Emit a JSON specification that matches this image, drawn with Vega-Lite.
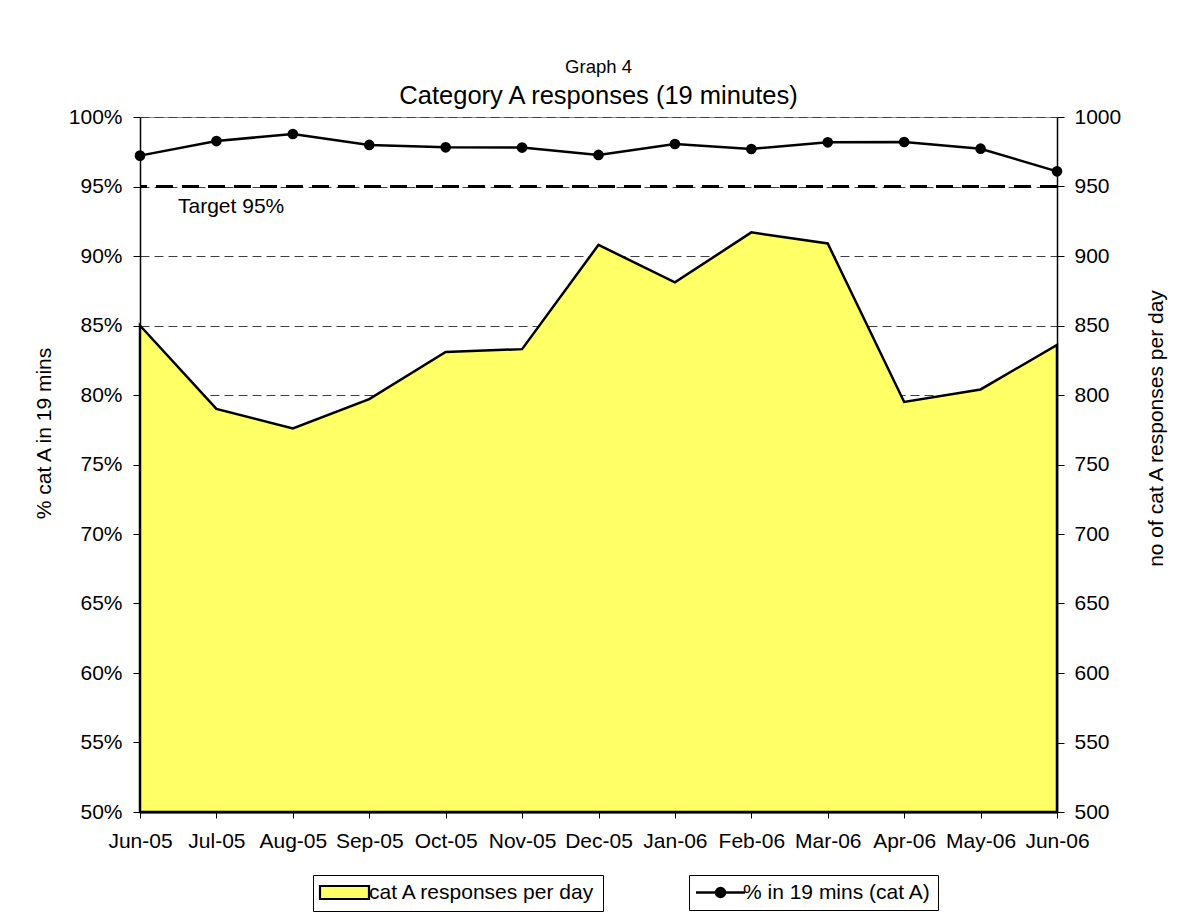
{
  "$schema": "https://vega.github.io/schema/vega-lite/v6.json",
  "width": 917,
  "height": 695,
  "autosize": {"type": "none"},
  "padding": {"left": 140, "top": 117, "right": 121, "bottom": 102},
  "background": "white",
  "config": {
    "font": "Liberation Sans",
    "view": {"stroke": "#8c8c8c", "strokeWidth": 1},
    "axis": {
      "labelFont": "Liberation Sans",
      "titleFont": "Liberation Sans",
      "labelFontSize": 21,
      "titleFontSize": 21,
      "titleFontWeight": "normal",
      "labelColor": "black",
      "titleColor": "black",
      "domainColor": "black",
      "tickColor": "black"
    },
    "legend": {
      "labelFont": "Liberation Sans",
      "labelFontSize": 21,
      "labelColor": "black",
      "labelLimit": 400
    }
  },
  "title": {
    "text": "Graph 4",
    "subtitle": "Category A responses (19 minutes)",
    "font": "Liberation Sans",
    "subtitleFont": "Liberation Sans",
    "fontSize": 18.5,
    "fontWeight": "normal",
    "subtitleFontSize": 25.5,
    "color": "black",
    "subtitleColor": "black",
    "anchor": "middle",
    "offset": -3,
    "subtitlePadding": 7
  },
  "data": {
    "values": [
      {"month": "Jun-05", "responses": 850, "pct": 0.9722},
      {"month": "Jul-05", "responses": 790, "pct": 0.9827},
      {"month": "Aug-05", "responses": 776, "pct": 0.9878},
      {"month": "Sep-05", "responses": 797, "pct": 0.9799},
      {"month": "Oct-05", "responses": 831, "pct": 0.9782},
      {"month": "Nov-05", "responses": 833, "pct": 0.978},
      {"month": "Dec-05", "responses": 908, "pct": 0.9727},
      {"month": "Jan-06", "responses": 881, "pct": 0.9806},
      {"month": "Feb-06", "responses": 917, "pct": 0.977},
      {"month": "Mar-06", "responses": 909, "pct": 0.9818},
      {"month": "Apr-06", "responses": 795, "pct": 0.982},
      {"month": "May-06", "responses": 804, "pct": 0.9772},
      {"month": "Jun-06", "responses": 836, "pct": 0.9609}
    ]
  },
  "layer": [
    {
      "mark": {"type": "area", "stroke": "black", "strokeWidth": 2.5},
      "encoding": {
        "x": {
          "field": "month", "type": "ordinal",
          "scale": {"type": "point", "padding": 0, "domain": ["Jun-05","Jul-05","Aug-05","Sep-05","Oct-05","Nov-05","Dec-05","Jan-06","Feb-06","Mar-06","Apr-06","May-06","Jun-06"]},
          "axis": {"title": null, "labelAngle": 0, "tickSize": 6, "labelPadding": 12, "domainWidth": 2, "zindex": 1, "grid": false}
        },
        "y": {
          "field": "responses", "type": "quantitative",
          "scale": {"domain": [500, 1000], "nice": false, "zero": false},
          "axis": {"orient": "right", "title": "no of cat A responses per day", "values": [500,550,600,650,700,750,800,850,900,950,1000], "format": "d", "grid": false, "tickSize": 7, "labelPadding": 10, "titlePadding": 46, "titleAngle": 270, "titleY": 311, "zindex": 1, "domainWidth": 1.5}
        },
        "y2": {"datum": 500},
        "fill": {
          "datum": "cat A responses per day", "type": "nominal",
          "scale": {"domain": ["cat A responses per day"], "range": ["#FFFF66"]},
          "legend": {
            "title": null,
            "orient": "none",
            "legendX": 173,
            "legendY": 758,
            "direction": "horizontal",
            "strokeColor": "black",
            "fillColor": "white",
            "padding": 7,
            "symbolSize": 100,
            "symbolOffset": 14,
            "labelOffset": 14,
            "symbolStrokeColor": "black",
            "symbolStrokeWidth": 2.2,
            "symbolType": "M-4.9,-1.3H4.9V1.3H-4.9Z"
          }
        }
      }
    },
    {
      "data": {"values": [{"target": 0.95}]},
      "mark": {"type": "rule", "color": "black", "strokeWidth": 3, "strokeDash": [17, 9]},
      "encoding": {
        "y": {
          "field": "target", "type": "quantitative",
          "scale": {"domain": [0.5, 1], "nice": false, "zero": false},
          "axis": {"orient": "left", "title": "% cat A in 19 mins", "values": [0.5,0.55,0.6,0.65,0.7,0.75,0.8,0.85,0.9,0.95,1], "format": ".0%", "grid": true, "gridDash": [9, 5], "gridColor": "#404040", "gridWidth": 1, "tickSize": 7, "labelPadding": 11, "titlePadding": 14, "titleY": 316, "domainWidth": 1.5, "zindex": 0}
        }
      }
    },
    {
      "mark": {"type": "line", "color": "black", "strokeWidth": 2.5, "point": {"filled": true, "fill": "black", "stroke": "black", "size": 75}},
      "encoding": {
        "x": {"field": "month", "type": "ordinal"},
        "y": {"field": "pct", "type": "quantitative", "scale": {"domain": [0.5, 1], "nice": false, "zero": false}, "axis": null},
        "stroke": {
          "datum": "% in 19 mins (cat A)", "type": "nominal",
          "scale": {"domain": ["% in 19 mins (cat A)"], "range": ["black"]},
          "legend": {
            "title": null,
            "orient": "none",
            "legendX": 549,
            "legendY": 758,
            "direction": "horizontal",
            "strokeColor": "black",
            "fillColor": "white",
            "padding": 7,
            "symbolSize": 100,
            "symbolOffset": 14,
            "labelOffset": 12,
            "symbolStrokeWidth": 2.5,
            "symbolFillColor": "black",
            "symbolType": "M-4.9,0H4.9M0.9,0A0.9,0.9,0,1,1,-0.9,0A0.9,0.9,0,1,1,0.9,0"
          }
        }
      }
    },
    {
      "data": {"values": [{"month": "Jun-05", "level": 0.935, "label": "Target 95%"}]},
      "mark": {"type": "text", "align": "left", "baseline": "middle", "dx": 38, "fontSize": 21, "font": "Liberation Sans", "color": "black"},
      "encoding": {
        "x": {"field": "month", "type": "ordinal"},
        "y": {"field": "level", "type": "quantitative", "scale": {"domain": [0.5, 1], "nice": false, "zero": false}, "axis": null},
        "text": {"field": "label"}
      }
    }
  ],
  "resolve": {"scale": {"y": "independent"}}
}
